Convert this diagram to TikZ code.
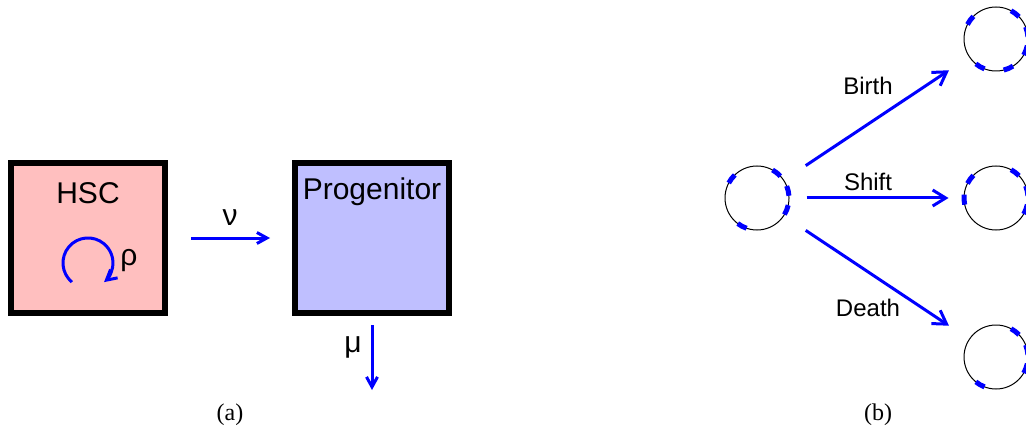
\documentclass[tikz,border=0pt]{standalone}
\usepackage{fontspec}
\setmainfont{Liberation Sans}
\newfontfamily\captionfont{Liberation Serif}
\usetikzlibrary{arrows.meta}
\begin{document}
\begin{tikzpicture}[x=0.5pt,y=0.5pt]
	\definecolor{hscpink}{RGB}{255,191,191}
	\definecolor{progblue}{RGB}{191,191,255}
	\tikzstyle{box_style} = [rectangle,draw=black,line width=3pt,minimum width=77pt,minimum height=75pt,inner sep=0pt]
	\tikzstyle{big_text} = [font=\fontsize{15}{18}\selectfont,inner sep=0pt]
	\tikzstyle{small_text} = [font=\fontsize{12}{14}\selectfont,inner sep=0pt]
	\tikzstyle{cap_text} = [font=\captionfont\fontsize{12}{14}\selectfont,inner sep=0pt]
	\tikzstyle{rate_style} = [draw=blue,line width=1.5pt,-{Straight Barb[length=5pt,width=5.5pt]}]
	\tikzstyle{move_style} = [draw=blue,line width=1.5pt,-{Straight Barb[length=6.5pt,width=8pt]}]
	\tikzstyle{cell_style} = [circle,draw=black,line width=0.5pt,minimum size=32pt,inner sep=0pt]
	\tikzstyle{mark_style} = [draw=blue,line width=2.5pt]
	\useasboundingbox (0,0) rectangle (1026,434);
	\node[box_style,fill=hscpink] (hsc) at (88,196) {};
	\node[box_style,fill=progblue] (prog) at (372,196) {};
	\node[big_text] (hsclabel) at (88,241) {HSC};
	\node[big_text] (proglabel) at (372,242) {Progenitor};
	\coordinate (loopstart) at (71.9,151.9);
	\draw[rate_style] (loopstart) arc[start angle=230,end angle=-50,radius=25];
	\node[big_text] (rho) at (129,173) {ρ};
	\draw[rate_style,shorten <=11.5pt,shorten >=11pt] (hsc) -- (prog);
	\node[big_text] (nu) at (230,216) {ν};
	\coordinate (muend) at (372,44);
	\draw[rate_style,shorten <=4.5pt] (prog.south) -- (muend);
	\node[big_text] (mu) at (353,87) {μ};
	\node[cell_style] (cell0) at (757,236) {};
	\node[cell_style] (cellbirth) at (996,395) {};
	\node[cell_style] (cellshift) at (996,236) {};
	\node[cell_style] (celldeath) at (996,77) {};
	\draw[move_style,shorten <=13pt,shorten >=12pt] (cell0) -- (cellbirth);
	\draw[move_style,shorten <=8.5pt,shorten >=7.5pt] (cell0) -- (cellshift);
	\draw[move_style,shorten <=13pt,shorten >=12pt] (cell0) -- (celldeath);
	\node[small_text] (birth) at (868,348) {Birth};
	\node[small_text] (shift) at (868,252) {Shift};
	\node[small_text] (death) at (868,126) {Death};
	\foreach \a in {143,52,13,-22,-118}
		\draw[mark_style] (cell0) ++(\a-9:32) arc[start angle=\a-9,end angle=\a+9,radius=32];
	\foreach \a in {144,53,13,-21,-67,-120}
		\draw[mark_style] (cellbirth) ++(\a-9:32) arc[start angle=\a-9,end angle=\a+9,radius=32];
	\foreach \a in {144,53,13,-21,183}
		\draw[mark_style] (cellshift) ++(\a-9:32) arc[start angle=\a-9,end angle=\a+9,radius=32];
	\foreach \a in {53,13,-21,-120}
		\draw[mark_style] (celldeath) ++(\a-9:32) arc[start angle=\a-9,end angle=\a+9,radius=32];
	\node[cap_text] (capa) at (230,19) {(a)};
	\node[cap_text] (capb) at (878,19) {(b)};
\end{tikzpicture}
\end{document}
